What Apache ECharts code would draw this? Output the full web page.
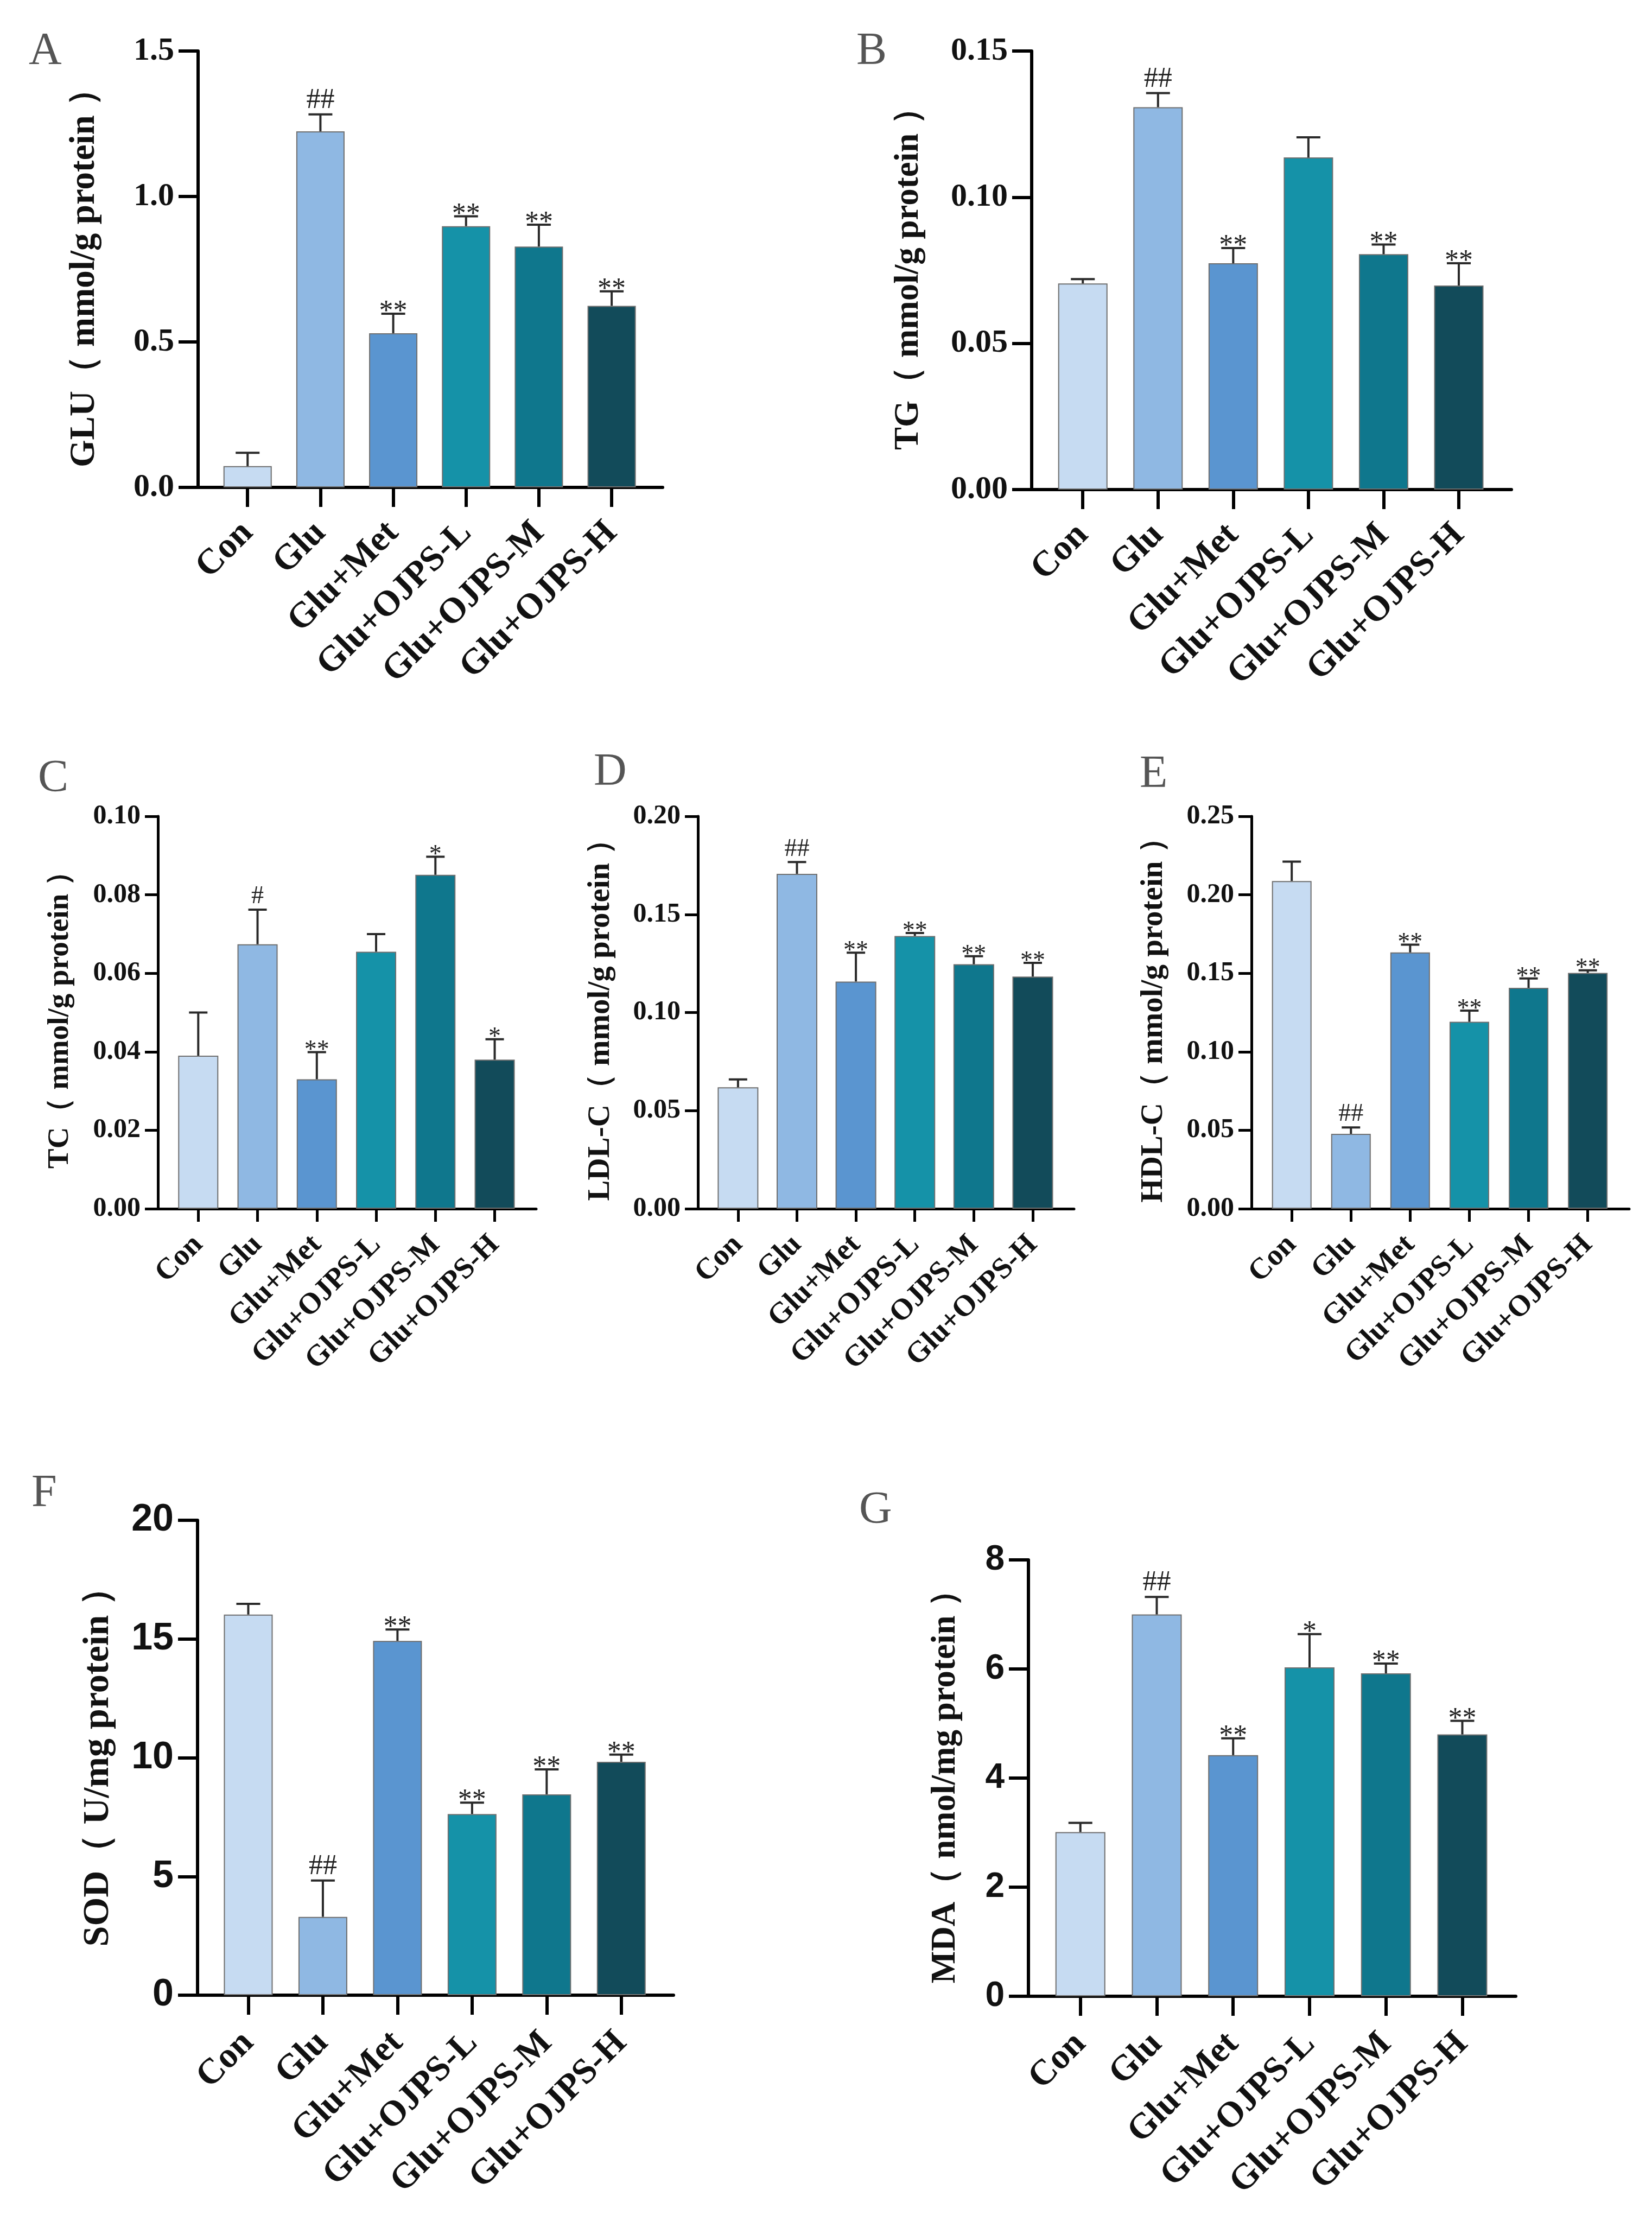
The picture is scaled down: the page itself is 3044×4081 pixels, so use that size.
<!DOCTYPE html>
<html>
<head>
<meta charset="utf-8">
<script src="https://cdn.jsdelivr.net/npm/echarts@6/dist/echarts.min.js"></script>
<style>
  html, body { margin: 0; padding: 0; background: #fff; }
  #chart { width: 3044px; height: 4081px; }
</style>
</head>
<body>
<div id="chart"></div>
<script>
const groups = ['Con', 'Glu', 'Glu+Met', 'Glu+OJPS-L', 'Glu+OJPS-M', 'Glu+OJPS-H']
const colors = ['#c6dbf2', '#8fb8e3', '#5a95d0', '#1592a8', '#0f778d', '#124b5a']

// A  GLU
const gluMean = [0.073, 1.224, 0.530, 0.898, 0.828, 0.624]
const gluErr = [0.046, 0.058, 0.067, 0.034, 0.075, 0.050]
const gluSig = ['', '##', '**', '**', '**', '**']
// B  TG
const tgMean = [0.0705, 0.1308, 0.0774, 0.1136, 0.0805, 0.0698]
const tgErr = [0.0015, 0.0048, 0.0052, 0.0069, 0.0033, 0.0076]
const tgSig = ['', '##', '**', '', '**', '**']
// C  TC
const tcMean = [0.0390, 0.0674, 0.0330, 0.0655, 0.0851, 0.0380]
const tcErr = [0.0110, 0.0088, 0.0069, 0.0045, 0.0046, 0.0052]
const tcSig = ['', '#', '**', '', '*', '*']
// D  LDL-C
const ldlMean = [0.0619, 0.1707, 0.1158, 0.1390, 0.1246, 0.1183]
const ldlErr = [0.0040, 0.0060, 0.0147, 0.0015, 0.0041, 0.0070]
const ldlSig = ['', '##', '**', '**', '**', '**']
// E  HDL-C
const hdlMean = [0.2088, 0.0477, 0.1633, 0.1191, 0.1407, 0.1502]
const hdlErr = [0.0123, 0.0041, 0.0049, 0.0071, 0.0060, 0.0017]
const hdlSig = ['', '##', '**', '**', '**', '**']
// F  SOD
const sodMean = [16.03, 3.30, 14.92, 7.63, 8.46, 9.83]
const sodErr = [0.45, 1.53, 0.48, 0.48, 1.05, 0.30]
const sodSig = ['', '##', '**', '**', '**', '**']
// G  MDA
const mdaMean = [3.01, 7.00, 4.42, 6.03, 5.92, 4.80]
const mdaErr = [0.17, 0.32, 0.31, 0.61, 0.18, 0.25]
const mdaSig = ['', '##', '**', '*', '**', '**']

const letters = ['A', 'B', 'C', 'D', 'E', 'F', 'G']
const yNames = [
  'GLU（ mmol/g protein ）',
  'TG（ mmol/g protein ）',
  'TC（ mmol/g protein ）',
  'LDL-C（ mmol/g protein ）',
  'HDL-C（ mmol/g protein ）',
  'SOD（ U/mg protein ）',
  'MDA（ nmol/mg protein ）'
]
const yMax = [1.5, 0.15, 0.10, 0.20, 0.25, 20, 8]
const yStep = [0.5, 0.05, 0.02, 0.05, 0.05, 5, 2]
const yDecimals = [1, 2, 2, 2, 2, 0, 0]

const means = [gluMean, tgMean, tcMean, ldlMean, hdlMean, sodMean, mdaMean]
const errs = [gluErr, tgErr, tcErr, ldlErr, hdlErr, sodErr, mdaErr]
const sigs = [gluSig, tgSig, tcSig, ldlSig, hdlSig, sodSig, mdaSig]

// panel geometry (px)
const layout = [
  { left: 365, top: 94, width: 856, height: 804, bar: 89, tick: 60, name: 65, gap: 176, label: 66, margin: 74, tlen: 36, line: 6, cap: 44, sig: 52, sans: false, lx: 53, ly: 54 },
  { left: 1901, top: 94, width: 884, height: 808, bar: 91, tick: 60, name: 63, gap: 195, label: 66, margin: 74, tlen: 36, line: 6, cap: 44, sig: 52, sans: false, lx: 1578, ly: 54 },
  { left: 291, top: 1504, width: 697, height: 723, bar: 74, tick: 50, name: 55, gap: 153, label: 55, margin: 58, tlen: 24, line: 5, cap: 34, sig: 46, sans: false, lx: 70, ly: 1394 },
  { left: 1286, top: 1504, width: 693, height: 723, bar: 75, tick: 50, name: 57, gap: 150, label: 55, margin: 58, tlen: 24, line: 5, cap: 34, sig: 46, sans: false, lx: 1094, ly: 1382 },
  { left: 2306, top: 1504, width: 696, height: 723, bar: 73, tick: 50, name: 57, gap: 151, label: 55, margin: 58, tlen: 24, line: 5, cap: 34, sig: 46, sans: false, lx: 2100, ly: 1386 },
  { left: 364, top: 2801, width: 877, height: 875, bar: 90, tick: 70, name: 68, gap: 149, label: 66, margin: 78, tlen: 36, line: 6, cap: 44, sig: 52, sans: true, lx: 58, ly: 2711 },
  { left: 1895, top: 2874, width: 898, height: 804, bar: 92, tick: 64, name: 63, gap: 121, label: 66, margin: 78, tlen: 36, line: 6, cap: 44, sig: 52, sans: true, lx: 1583, ly: 2742 }
]

const serif = 'Liberation Serif, Times New Roman, serif'
const sans = 'Liberation Sans, Arial, sans-serif'

function errorBars (sig, cap, fs) {
  return function (params, api) {
    const x = api.value(0)
    const m = api.value(1)
    const e = api.value(2)
    const p0 = api.coord([x, m])
    const p1 = api.coord([x, m + e])
    const style = { stroke: '#2a2a2a', lineWidth: 4 }
    const children = [
      { type: 'line', shape: { x1: p0[0], y1: p0[1], x2: p1[0], y2: p1[1] }, style },
      { type: 'line', shape: { x1: p1[0] - cap / 2, y1: p1[1], x2: p1[0] + cap / 2, y2: p1[1] }, style }
    ]
    const s = sig[params.dataIndex]
    if (s) {
      const star = s[0] === '*'
      children.push({
        type: 'text',
        style: {
          text: s,
          x: p1[0],
          y: star ? p1[1] + fs * 0.45 : p1[1] + fs * 0.2 - 10,
          align: 'center',
          verticalAlign: 'bottom',
          fontFamily: serif,
          fontSize: fs,
          fill: '#222'
        }
      })
    }
    return { type: 'group', children }
  }
}

const option = {
  backgroundColor: '#fff',
  animation: false,
  title: [],
  grid: [],
  xAxis: [],
  yAxis: [],
  series: []
}

layout.forEach((g, i) => {
  option.title.push({
    text: letters[i],
    left: g.lx,
    top: g.ly,
    padding: 0,
    textStyle: { fontFamily: serif, fontWeight: 'normal', fontSize: 84, color: '#555' }
  })
  option.grid.push({ left: g.left, top: g.top, width: g.width, height: g.height, containLabel: false })
  const axisTick = { show: true, length: g.tlen, lineStyle: { color: '#000', width: g.line } }
  option.xAxis.push({
    type: 'value',
    gridIndex: i,
    min: -0.68,
    max: 5.7,
    splitLine: { show: false },
    axisLine: { show: true, onZero: false, lineStyle: { color: '#000', width: g.line } },
    axisTick: Object.assign({ customValues: [0, 1, 2, 3, 4, 5] }, axisTick),
    axisLabel: {
      customValues: [0, 1, 2, 3, 4, 5],
      formatter: v => groups[Math.round(v)],
      rotate: 45,
      margin: g.margin,
      fontFamily: serif,
      fontWeight: 'bold',
      fontSize: g.label,
      color: '#111'
    }
  })
  option.yAxis.push({
    type: 'value',
    gridIndex: i,
    min: 0,
    max: yMax[i],
    interval: yStep[i],
    splitLine: { show: false },
    axisLine: { show: true, onZero: false, lineStyle: { color: '#000', width: g.line } },
    axisTick,
    axisLabel: {
      formatter: v => v.toFixed(yDecimals[i]),
      margin: g.tlen + 8,
      fontFamily: g.sans ? sans : serif,
      fontWeight: 'bold',
      fontSize: g.tick,
      color: '#111'
    },
    name: yNames[i],
    nameLocation: 'middle',
    nameRotate: 90,
    nameGap: g.gap,
    nameTextStyle: { fontFamily: serif, fontWeight: 'bold', fontSize: g.name, color: '#111' }
  })
  option.series.push({
    type: 'bar',
    xAxisIndex: i,
    yAxisIndex: i,
    barWidth: g.bar,
    data: means[i].map((v, k) => ({
      value: [k, v],
      itemStyle: { color: colors[k], borderColor: '#6f6f6f', borderWidth: 2 }
    }))
  })
  option.series.push({
    type: 'custom',
    xAxisIndex: i,
    yAxisIndex: i,
    z: 5,
    renderItem: errorBars(sigs[i], g.cap, g.sig),
    encode: { x: 0, y: 1 },
    data: means[i].map((v, k) => [k, v, errs[i][k]])
  })
})

const chart = echarts.init(document.getElementById('chart'))
chart.setOption(option)
</script>
</body>
</html>
